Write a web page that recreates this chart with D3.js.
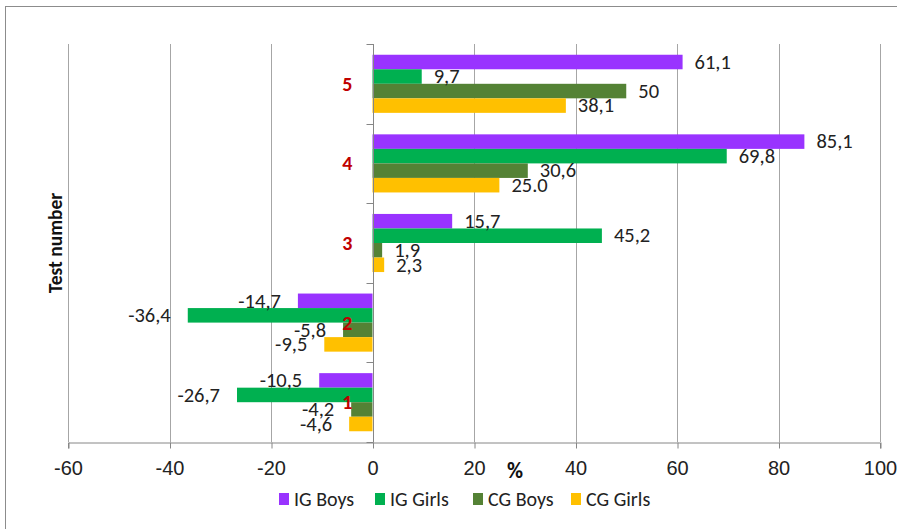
<!DOCTYPE html>
<html>
<head>
<meta charset="utf-8">
<script src="https://cdn.jsdelivr.net/npm/d3@7"></script>
<style>
  body { margin: 0; background: #fff; }
  svg { display: block; font-family: Carlito, Calibri, 'Liberation Sans Narrow', 'Open Sans', sans-serif; }
</style>
</head>
<body>
<div id="chart"></div>
<script>
// categories (test number), bottom to top
const categories = ['1', '2', '3', '4', '5'];
const seriesNames = ['IG Boys', 'IG Girls', 'CG Boys', 'CG Girls'];
const seriesColors = ['#9933FF', '#00B050', '#548235', '#FFC000'];

const igBoys = [-10.5, -14.7, 15.7, 85.1, 61.1];
const igGirls = [-26.7, -36.4, 45.2, 69.8, 9.7];
const cgBoys = [-4.2, -5.8, 1.9, 30.6, 50];
const cgGirls = [-4.6, -9.5, 2.3, 25.0, 38.1];

// data labels as printed on the chart
const igBoysLabels = ['-10,5', '-14,7', '15,7', '85,1', '61,1'];
const igGirlsLabels = ['-26,7', '-36,4', '45,2', '69,8', '9,7'];
const cgBoysLabels = ['-4,2', '-5,8', '1,9', '30,6', '50'];
const cgGirlsLabels = ['-4,6', '-9,5', '2,3', '25.0', '38,1'];

const xTicks = [-60, -40, -20, 0, 20, 40, 60, 80, 100];

const allValues = [igBoys, igGirls, cgBoys, cgGirls];
const allLabels = [igBoysLabels, igGirlsLabels, cgBoysLabels, cgGirlsLabels];

const rows = [];
categories.forEach((c, i) => {
    seriesNames.forEach((s, j) => {
        rows.push({ cat: c, series: s, value: allValues[j][i], label: allLabels[j][i], color: seriesColors[j] });
    });
});

const W = 897, H = 529;
const svg = d3.select('#chart').append('svg').attr('width', W).attr('height', H);

// outer chart border
svg.append('rect')
    .attr('x', 5.5).attr('y', 6.5)
    .attr('width', 940).attr('height', 560)
    .attr('fill', 'none').attr('stroke', '#8c8c8c').attr('stroke-width', 1);

const plot = { left: 68, right: 880, top: 44, bottom: 442 };

const x = d3.scaleLinear().domain([-60, 100]).range([plot.left, plot.right]);
const y0 = d3.scaleBand().domain(categories.slice().reverse()).range([plot.top, plot.bottom]);
const pad = y0.bandwidth() * 0.135;
const y1 = d3.scaleBand().domain(seriesNames).range([pad, y0.bandwidth() - pad]);

// vertical gridlines
svg.append('g')
    .selectAll('line')
    .data(xTicks.filter(d => d !== 0))
    .join('line')
    .attr('x1', d => Math.round(x(d)) + 0.5).attr('x2', d => Math.round(x(d)) + 0.5)
    .attr('y1', plot.top).attr('y2', plot.bottom)
    .attr('stroke', '#a6a6a6').attr('stroke-width', 1);

// bottom axis
const xAxis = svg.append('g')
    .attr('transform', `translate(0,${plot.bottom + 0.5})`)
    .call(d3.axisBottom(x).tickValues(xTicks).tickSize(6).tickPadding(12).tickFormat(d3.format('d')));
xAxis.select('.domain').attr('stroke', '#868686');
xAxis.selectAll('.tick line').attr('stroke', '#868686').attr('transform', 'translate(0.5,0)');
xAxis.selectAll('.tick text')
    .attr('font-size', 20).attr('fill', '#222')
    .attr('font-family', 'inherit')
    .text(d => d < 0 ? '-' + Math.abs(d) : d);

// bars
const groups = svg.append('g')
    .selectAll('g')
    .data(categories)
    .join('g')
    .attr('transform', d => `translate(0,${y0(d)})`);

groups.selectAll('rect')
    .data(c => rows.filter(r => r.cat === c))
    .join('rect')
    .attr('x', d => x(Math.min(0, d.value)))
    .attr('y', d => y1(d.series))
    .attr('width', d => Math.abs(x(d.value) - x(0)))
    .attr('height', y1.bandwidth())
    .attr('fill', d => d.color);

// category axis at zero
const yAxis = svg.append('g').attr('transform', `translate(${Math.round(x(0)) + 0.5},0)`);
yAxis.append('line')
    .attr('y1', plot.top).attr('y2', plot.bottom)
    .attr('stroke', '#868686');
yAxis.selectAll('line.tk')
    .data(categories.concat(['']))
    .join('line')
    .attr('class', 'tk')
    .attr('x1', -7).attr('x2', 0)
    .attr('y1', (d, i) => i < categories.length ? Math.round(y0(d)) + 0.5 : plot.bottom + 0.5)
    .attr('y2', (d, i) => i < categories.length ? Math.round(y0(d)) + 0.5 : plot.bottom + 0.5)
    .attr('stroke', '#868686');

// data labels
groups.selectAll('text.lbl')
    .data(c => rows.filter(r => r.cat === c))
    .join('text')
    .attr('class', 'lbl')
    .attr('x', d => d.value >= 0 ? x(d.value) + 12 : x(d.value) - 17)
    .attr('y', d => y1(d.series) + y1.bandwidth() / 2)
    .attr('dy', '0.33em')
    .attr('text-anchor', d => d.value >= 0 ? 'start' : 'end')
    .attr('font-size', 20.5)
    .attr('fill', '#222')
    .text(d => d.label);

// category labels (red)
svg.append('g')
    .selectAll('text')
    .data(categories)
    .join('text')
    .attr('x', x(0) - 20)
    .attr('y', d => y0(d) + y0.bandwidth() / 2)
    .attr('dy', '0.35em')
    .attr('text-anchor', 'end')
    .attr('font-size', 20)
    .attr('font-weight', 'bold')
    .attr('fill', '#C00000')
    .text(d => d);

// axis titles
svg.append('text')
    .attr('transform', `translate(62,${(plot.top + plot.bottom) / 2}) rotate(-90)`)
    .attr('text-anchor', 'middle')
    .attr('font-size', 19.5)
    .attr('font-weight', 'bold')
    .attr('fill', '#111')
    .text('Test number');

svg.append('text')
    .attr('x', 515).attr('y', 478)
    .attr('text-anchor', 'middle')
    .attr('font-size', 22)
    .attr('font-weight', 'bold')
    .attr('fill', '#111')
    .text('%');

// legend
const legendX = [279, 375, 473, 571];
const legend = svg.append('g')
    .selectAll('g')
    .data(seriesNames)
    .join('g')
    .attr('transform', (d, i) => `translate(${legendX[i]},499)`);
legend.append('rect')
    .attr('x', 0).attr('y', -6)
    .attr('width', 10).attr('height', 12)
    .attr('fill', (d, i) => seriesColors[i]);
legend.append('text')
    .attr('x', 15).attr('y', 0)
    .attr('dy', '0.35em')
    .attr('font-size', 20)
    .attr('fill', '#222')
    .text(d => d);
</script>
</body>
</html>
